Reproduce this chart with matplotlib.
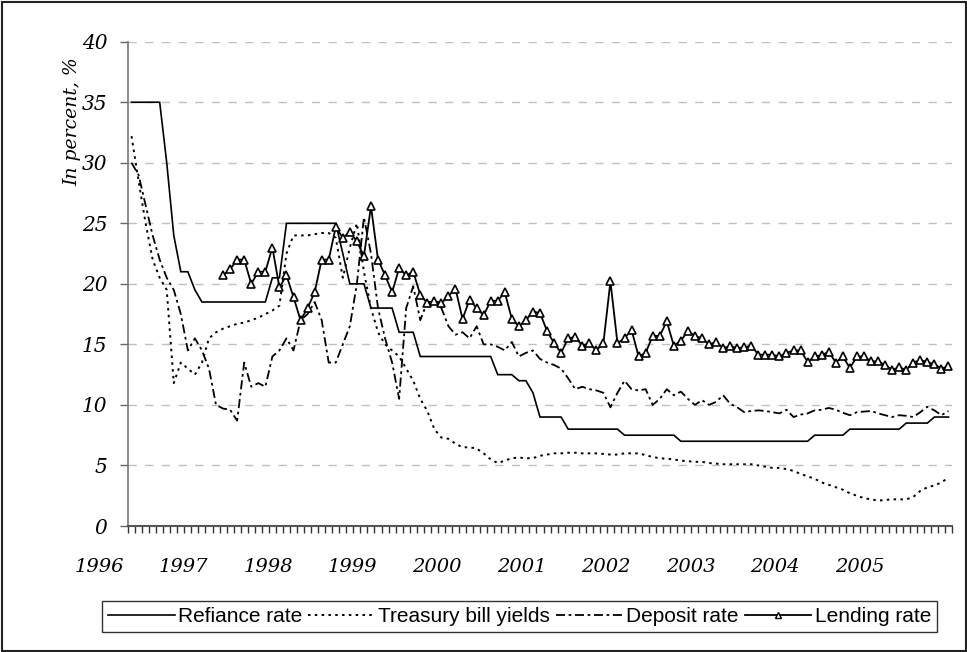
import numpy as np
import matplotlib
matplotlib.use("Agg")
import matplotlib.pyplot as plt
from matplotlib.lines import Line2D
from matplotlib.patches import Rectangle

# ---------------- data (monthly observations, index 0 = first month) -------------
year_labels = ["1996", "1997", "1998", "1999", "2000", "2001", "2002", "2003", "2004", "2005"]
year_label_pos = [-4.6 + 12 * k for k in range(10)]

refinance = ([35] * 5 + [30, 24, 21, 21, 19.5] + [18.5] * 10 + [20.5] * 2 + [25] * 8 +
             [22.5] + [20] * 3 + [18] * 4 + [16] * 3 + [14] * 11 + [12.5] * 3 + [12] * 2 +
             [11] + [9] * 4 + [8] * 8 + [7.5] * 8 + [7] * 19 + [7.5] * 5 + [8] * 8 +
             [8.5] * 4 + [9] * 3)

treasury = [32.2, 28.5, 25, 22, 20.5, 19.5, 11.8, 13.5, 13.0, 12.5,
            13.5, 15.5, 16.0, 16.3, 16.5, 16.7, 16.8, 17.0, 17.2, 17.5,
            17.8, 18.2, 22.5, 24.0, 24.0, 24.0, 24.1, 24.2, 24.2, 23.8,
            20.5, 23.0, 25.0, 21.0, 18.0, 16.0, 15.0, 14.5, 14.0, 13.0,
            12.0, 10.5, 9.5, 8.0, 7.3, 7.2, 6.8, 6.5, 6.5, 6.4,
            6.0, 5.5, 5.2, 5.4, 5.6, 5.65, 5.6, 5.6, 5.8, 5.9,
            6.0, 6.0, 6.05, 6.05, 6.0, 6.0, 6.0, 5.95, 5.9, 5.9,
            6.0, 6.0, 6.0, 5.85, 5.7, 5.6, 5.55, 5.5, 5.4, 5.35,
            5.3, 5.3, 5.2, 5.15, 5.1, 5.1, 5.1, 5.1, 5.1, 5.0,
            4.9, 4.8, 4.8, 4.7, 4.55, 4.3, 4.1, 3.9, 3.6, 3.4,
            3.2, 3.0, 2.7, 2.5, 2.3, 2.2, 2.1, 2.15, 2.2, 2.2,
            2.2, 2.4, 2.9, 3.2, 3.35, 3.6, 4.0]

deposit = [30, 29, 26.5, 24, 22, 20.5, 19.5, 17.5, 14.5, 15.5,
           14.5, 13.0, 10.0, 9.7, 9.6, 8.7, 13.5, 11.5, 11.8, 11.5,
           14.0, 14.5, 15.5, 14.5, 17.0, 17.5, 18.5, 17.0, 13.5, 13.5,
           15.0, 16.5, 20.0, 25.5, 22.5, 18.0, 15.5, 13.5, 10.5, 18.0,
           19.8, 17.0, 18.5, 18.5, 18.0, 16.5, 15.8, 16.0, 15.5, 16.5,
           15.0, 15.0, 14.8, 14.5, 15.2, 14.0, 14.3, 14.5, 13.8, 13.5,
           13.3, 13.0, 12.2, 11.3, 11.5, 11.3, 11.2, 11.0, 9.8, 11.0,
           12.0, 11.3, 11.2, 11.3, 10.0, 10.5, 11.3, 10.8, 11.1, 10.5,
           10.0, 10.4, 10.0, 10.25, 10.8, 10.1, 9.8, 9.4, 9.5, 9.55,
           9.5, 9.4, 9.3, 9.6, 9.0, 9.2, 9.3, 9.55, 9.6, 9.75,
           9.6, 9.35, 9.15, 9.4, 9.45, 9.5, 9.3, 9.15, 9.0, 9.15,
           9.1, 9.0, 9.4, 9.85, 9.55, 9.15, 9.5]

lending_start = 13
lending = [20.7, 21.2, 22.0, 22.0, 20.0, 21.0, 21.0, 23.0, 19.7, 20.7,
           18.9, 17.0, 18.0, 19.3, 22.0, 22.0, 24.7, 23.8, 24.3, 23.5,
           22.3, 26.4, 22.0, 20.7, 19.3, 21.3, 20.7, 21.0, 19.1, 18.4,
           18.6, 18.4, 19.0, 19.6, 17.1, 18.7, 18.0, 17.4, 18.6, 18.6,
           19.3, 17.1, 16.5, 17.0, 17.7, 17.6, 16.1, 15.1, 14.3, 15.5,
           15.6, 14.9, 15.1, 14.5, 15.1, 20.2, 15.1, 15.5, 16.2, 14.0,
           14.3, 15.7, 15.7, 16.9, 14.9, 15.3, 16.1, 15.7, 15.5, 15.0,
           15.2, 14.7, 14.85, 14.7, 14.75, 14.9, 14.15, 14.15, 14.15, 14.0,
           14.3, 14.5, 14.5, 13.55, 14.0, 14.1, 14.4, 13.5, 14.0, 13.05,
           14.0, 14.0, 13.6, 13.6, 13.3, 12.9, 13.1, 12.9, 13.5, 13.7,
           13.55, 13.35, 13.0, 13.2]

series_names = ["Refiance rate", "Treasury bill yields", "Deposit rate", "Lending rate"]
y_ticks = [0, 5, 10, 15, 20, 25, 30, 35, 40]
y_label = "In percent, %"

# ---------------- figure ----------------
W, H = 967, 652
fig = plt.figure(figsize=(W / 100, H / 100), dpi=100)
ax = fig.add_axes([128 / W, 1 - 526 / H, (952 - 128) / W, (526 - 41.7) / H])

n = len(refinance)
x = np.arange(n)
x_lend = np.arange(lending_start, lending_start + len(lending))

TB_STYLE = (0, (1.3, 2.2))
DEP_STYLE = (0, (5, 2, 1.5, 2))

ax.plot(x, refinance, color="black", lw=1.2, solid_joinstyle="miter")
ax.plot(x, treasury, color="black", lw=1.4, linestyle=TB_STYLE)
ax.plot(x, deposit, color="black", lw=1.3, linestyle=DEP_STYLE)
ax.plot(x_lend, lending, color="black", lw=1.3, marker="^", markersize=6,
        markerfacecolor="white", markeredgecolor="black", markeredgewidth=1.2)

ax.set_xlim(-0.5, n - 0.5)
ax.set_ylim(0, 40)
ax.set_yticks(y_ticks)
ax.set_yticklabels([str(v) for v in y_ticks], fontfamily="DejaVu Serif",
                   fontstyle="italic", fontsize=14.5)
ax.set_xticks(np.arange(-0.5, n, 1.0))
ax.set_xticklabels([])
ax.tick_params(axis="x", direction="out", length=5, width=1, color="#333333")
ax.tick_params(axis="y", direction="out", length=6, width=1, color="#666666", pad=9)

for yv in y_ticks[1:]:
    ax.axhline(yv, color="#c0c0c0", lw=1.0, linestyle=(0, (6, 6)), zorder=0)

for s in ["top", "right"]:
    ax.spines[s].set_visible(False)
ax.spines["left"].set_color("#777777")
ax.spines["bottom"].set_color("#555555")
ax.spines["left"].set_linewidth(1.2)
ax.spines["bottom"].set_linewidth(1.5)

for lab, pos in zip(year_labels, year_label_pos):
    ax.text(pos, -0.085, lab, transform=ax.get_xaxis_transform(), ha="center",
            va="center", fontfamily="DejaVu Serif", fontstyle="italic", fontsize=14,
            clip_on=False)

fig.text(72 / W, 1 - 122 / H, y_label, rotation=90, ha="center", va="center",
         fontfamily="DejaVu Serif", fontstyle="italic", fontsize=13.5)

handles = [
    Line2D([], [], color="black", lw=1.2),
    Line2D([], [], color="black", lw=1.4, linestyle=TB_STYLE),
    Line2D([], [], color="black", lw=1.3, linestyle=DEP_STYLE),
    Line2D([], [], color="black", lw=1.3, marker="^", markersize=4,
           markerfacecolor="white", markeredgecolor="black"),
]
leg = fig.legend(handles, series_names, loc="center", ncol=4,
                 bbox_to_anchor=(519.5 / W, 1 - 616.5 / H),
                 prop={"family": ["Liberation Sans", "DejaVu Sans"], "size": 15},
                 handlelength=3.2, handletextpad=0.15, columnspacing=0.3,
                 frameon=True, fancybox=False, borderpad=0.3, borderaxespad=0)
leg.get_frame().set_edgecolor("black")
leg.get_frame().set_linewidth(1.0)

fig.patches.append(Rectangle((1.5 / W, 1.5 / H), 1 - 3 / W, 1 - 3 / H,
                             transform=fig.transFigure, fill=False,
                             edgecolor="#222222", lw=1.5))

fig.savefig("out.png", dpi=100)
